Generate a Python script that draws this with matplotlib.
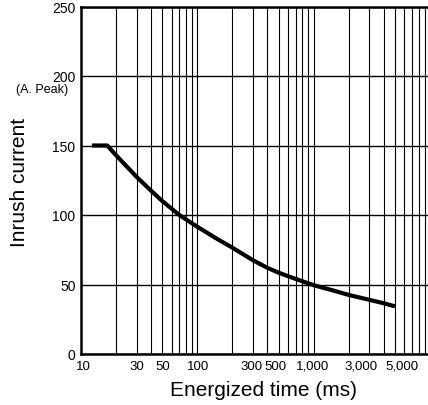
from matplotlib import pyplot as plt
from matplotlib.ticker import FixedLocator, NullFormatter
from matplotlib.transforms import ScaledTranslation
import numpy as np

# Inrush current vs energized time
time_ms = [12.4, 16.8, 20, 30, 40, 50, 70, 100, 150, 200, 300, 400, 500, 700,
           1000, 1500, 2000, 3000, 4000, 5000]
current_a = [150, 150, 143, 127.5, 117.5, 110, 100, 91.5, 82.5, 76.5, 67.5, 62, 58.5, 54,
             49.5, 45.5, 42.5, 39, 36.5, 34.3]

x_tick_vals = [10, 30, 50, 100, 300, 500, 1000, 3000, 5000]
x_tick_labels = ['10', '30', '50', '100', '300', '500', '1,000', '3,000', '5,000']
# small sideways nudges of the labels (px), as in the printed chart
x_label_shift = [2, 0, 0, 1, -1, -3, -1, -8, 7]
y_tick_vals = [0, 50, 100, 150, 200, 250]

plt.rcParams['font.family'] = ['Liberation Sans', 'DejaVu Sans']

fig = plt.figure(figsize=(4.28, 4.06), dpi=100)
ax = fig.add_axes([81 / 428, 51 / 406, 349 / 428, 347.5 / 406])

ax.plot(time_ms, current_a, color='black', linewidth=3.0, solid_capstyle='butt',
        solid_joinstyle='round', zorder=5)

ax.set_xscale('log')
ax.set_xlim(10, 10000)
ax.set_ylim(0, 250)

# minor grid at every 1..9 x 10^k
minor = [m * 10 ** k for k in range(1, 4) for m in range(1, 10)]
ax.xaxis.set_minor_locator(FixedLocator(minor))
ax.xaxis.set_minor_formatter(NullFormatter())
ax.xaxis.set_major_locator(FixedLocator(x_tick_vals))
ax.set_xticklabels(x_tick_labels)
ax.set_yticks(y_tick_vals)

ax.grid(which='minor', axis='x', color='black', linewidth=0.8)
ax.grid(which='major', axis='x', color='black', linewidth=0.8)
ax.grid(which='major', axis='y', color='black', linewidth=1.0)

ax.tick_params(which='both', length=0)
ax.tick_params(axis='x', pad=4, labelsize=9.5)
ax.tick_params(axis='y', pad=4, labelsize=10)

for lab, dx in zip(ax.get_xticklabels(), x_label_shift):
    lab.set_transform(lab.get_transform() + ScaledTranslation(dx / 100, 0, fig.dpi_scale_trans))

for s in ['left', 'bottom', 'top']:
    ax.spines[s].set_linewidth(1.8)
ax.spines['right'].set_visible(False)

fig.text(42 / 428, 1 - 90 / 406, '(A. Peak)', ha='center', va='center', fontsize=9)
fig.text(20 / 428, 1 - 182 / 406, 'Inrush current', rotation=90, ha='center', va='center', fontsize=15)
fig.text(263 / 428, 1 - 391 / 406, 'Energized time (ms)', ha='center', va='center', fontsize=15)

plt.savefig('out.png', dpi=100)
